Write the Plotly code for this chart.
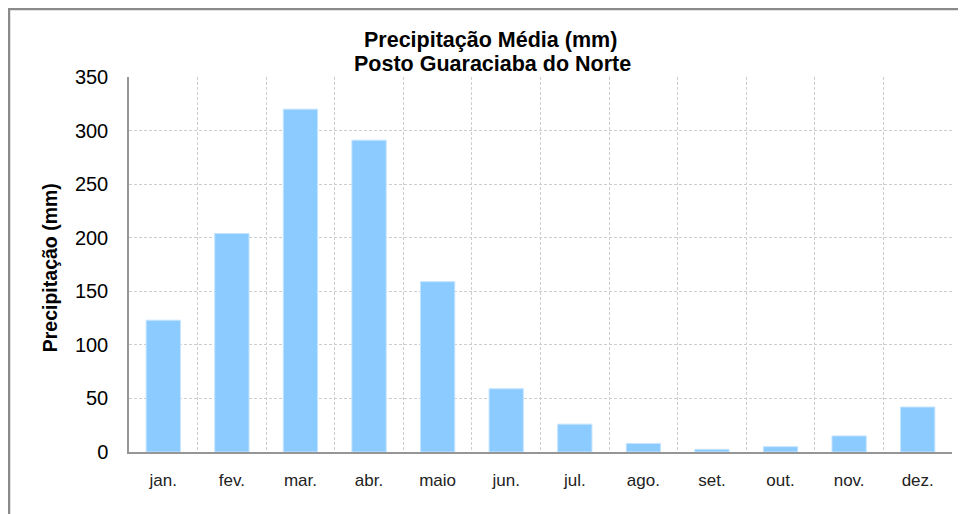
import plotly.graph_objects as go

months = ["jan.", "fev.", "mar.", "abr.", "maio", "jun.", "jul.", "ago.", "set.", "out.", "nov.", "dez."]
precip = [123, 204, 320, 291, 159, 59, 26, 8, 2.5, 5, 15, 42]
y_ticks = [0, 50, 100, 150, 200, 250, 300, 350]

# the page places the figure 8px from the top-left corner
OFF = 8
W, H = 958, 506
L, T = 129 - OFF, 76.5 - OFF
R = W - (952 - OFF)
B = H - (452 - OFF)
pw, ph = W - L - R, H - T - B

def px_x(x):  # page pixel -> paper
    return (x - OFF - L) / pw

def px_y(y):
    return (H - B - (y - OFF)) / ph

FONT = "Arial, Liberation Sans, sans-serif"

fig = go.Figure(go.Bar(
    x=months, y=precip,
    marker=dict(color="#8CCBFF", line=dict(color="#C4E4FF", width=1)),
))

fig.update_layout(
    width=W, height=H,
    margin=dict(l=L, r=R, t=T, b=B),
    paper_bgcolor="white", plot_bgcolor="white",
    bargap=0.5, showlegend=False,
    font=dict(family=FONT, color="black"),
)
fig.update_xaxes(
    type="category", tickson="boundaries",
    showgrid=True, gridcolor="#CDCDCD", griddash="3px,2px", gridwidth=1,
    showline=True, linecolor="#969696", linewidth=1.5,
    ticks="", ticklabelstandoff=12,
    tickfont=dict(size=17, color="#222222", family=FONT),
)
fig.update_yaxes(
    range=[0, 350], tickvals=y_ticks,
    showgrid=True, gridcolor="#CDCDCD", griddash="3px,2px", gridwidth=1,
    showline=True, linecolor="#969696", linewidth=1.5,
    ticks="", ticklabelstandoff=15, zeroline=False,
    tickfont=dict(size=20, color="black", family=FONT),
)

fig.add_annotation(
    text="<b>Precipitação Média (mm)</b>",
    xref="paper", yref="paper", x=px_x(490), y=px_y(39.5),
    xanchor="center", yanchor="middle", showarrow=False,
    font=dict(size=21.5, family=FONT, color="black"),
)
fig.add_annotation(
    text="<b>Posto Guaraciaba do Norte</b>",
    xref="paper", yref="paper", x=px_x(492), y=px_y(63.5),
    xanchor="center", yanchor="middle", showarrow=False,
    font=dict(size=21.5, family=FONT, color="black"),
)
fig.add_annotation(
    text="<b>Precipitação (mm)</b>",
    xref="paper", yref="paper", x=px_x(50), y=px_y(268),
    xanchor="center", yanchor="middle", textangle=-90, showarrow=False,
    font=dict(size=19.5, family=FONT, color="black"),
)
fig.add_shape(
    type="rect", xref="paper", yref="paper",
    x0=px_x(9), x1=px_x(1000), y0=px_y(560), y1=px_y(8.5),
    line=dict(color="#8A8A8A", width=2.5), fillcolor="rgba(0,0,0,0)", layer="below",
)

fig.write_html("out.html")
